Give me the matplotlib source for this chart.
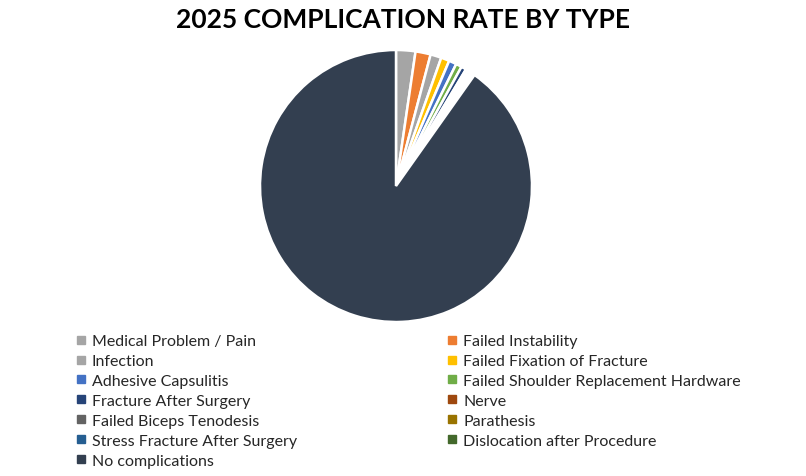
import matplotlib.pyplot as plt
from matplotlib.lines import Line2D

plt.rcParams['font.family'] = ['Lato', 'DejaVu Sans']

labels = ['Medical Problem / Pain', 'Failed Instability', 'Infection',
          'Failed Fixation of Fracture', 'Adhesive Capsulitis',
          'Failed Shoulder Replacement Hardware', 'Fracture After Surgery',
          'Nerve', 'Failed Biceps Tenodesis', 'Parathesis',
          'Stress Fracture After Surgery', 'Dislocation after Procedure',
          'No complications']
values = [2.3, 1.8, 1.3, 1.0, 0.9, 0.7, 0.6, 0.3, 0.3, 0.2, 0.2, 0.2, 90.2]
colors = ['#A5A5A5', '#ED7D31', '#A5A5A5', '#FFC000', '#4472C4', '#70AD47',
          '#264478', '#9E480E', '#636363', '#997300', '#255E91', '#43682B',
          '#333F50']

fig = plt.figure(figsize=(8.06, 4.77), dpi=100)
W, H = 806, 477
cx, cy, r = 396, 187, 136
ax = fig.add_axes([(cx - r) / W, (H - cy - r) / H, 2 * r / W, 2 * r / H])
ax.pie(values, colors=colors, startangle=90, counterclock=False,
       wedgeprops=dict(edgecolor='white', linewidth=1.8))
ax.set_xlim(-1, 1)
ax.set_ylim(-1, 1)
ax.set_aspect('equal')

fig.text(0.5, 1 - 20 / H, '2025 COMPLICATION RATE BY TYPE', ha='center', va='center',
         fontsize=19, fontweight='bold', color='black')

# legend is filled row by row in the reference
order = [0, 2, 4, 6, 8, 10, 12, 1, 3, 5, 7, 9, 11]
handles = [Line2D([], [], marker='s', linestyle='none', markersize=6,
                  color=colors[i]) for i in order]
fig.legend(handles, [labels[i] for i in order], ncol=2, frameon=False,
           loc='upper left', bbox_to_anchor=(76 / W, 1 - 335 / H),
           fontsize=11.5, labelspacing=0.36, handlelength=0.6, handletextpad=0.4,
           columnspacing=9.4, borderaxespad=0, borderpad=0, labelcolor='#262626')

fig.savefig('out.png', dpi=100)
